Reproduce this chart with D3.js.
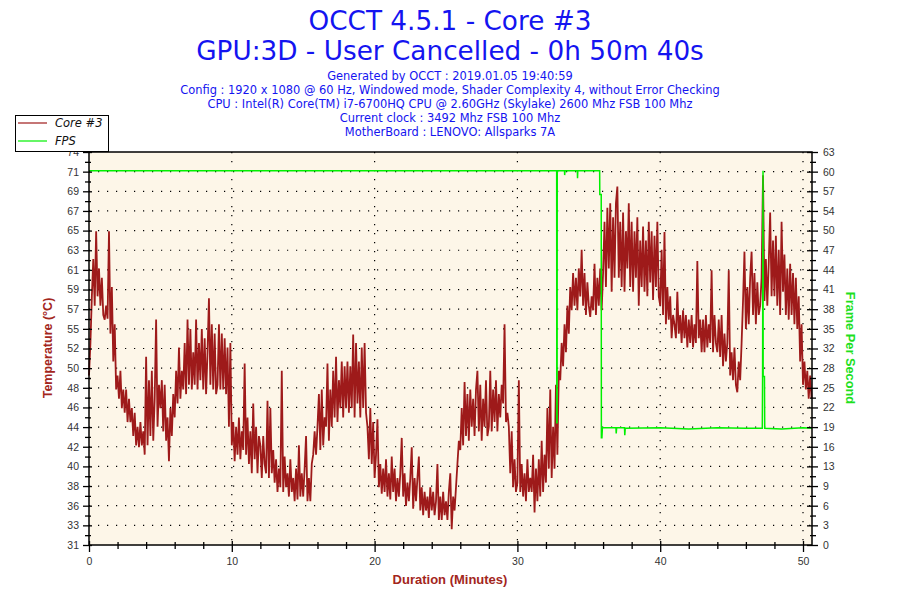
<!DOCTYPE html>
<html>
<head>
<meta charset="utf-8">
<script src="https://cdn.jsdelivr.net/npm/d3@7"></script>
<style>
  body { margin: 0; background: #fff; }
  svg { display: block; }
</style>
</head>
<body>
<svg id="chart" width="900" height="600"></svg>
<script>
// OCCT core temperature log

var titleLines = ['OCCT 4.5.1 - Core #3', 'GPU:3D - User Cancelled - 0h 50m 40s'];
var infoLines = [
    'Generated by OCCT : 2019.01.05 19:40:59',
    'Config : 1920 x 1080 @ 60 Hz, Windowed mode, Shader Complexity 4, without Error Checking',
    'CPU : Intel(R) Core(TM) i7-6700HQ CPU @ 2.60GHz (Skylake) 2600 Mhz FSB 100 Mhz',
    'Current clock : 3492 Mhz FSB 100 Mhz',
    'MotherBoard : LENOVO: Allsparks 7A'
];

var tempTickLabels = [31, 33, 36, 38, 40, 42, 44, 46, 48, 50, 52, 55, 57, 59, 61, 63, 65, 67, 69, 71, 74];
var fpsTickLabels = [0, 3, 6, 9, 13, 16, 19, 22, 25, 28, 32, 35, 38, 41, 44, 47, 50, 54, 57, 60, 63];
var minuteTicks = [0, 10, 20, 30, 40, 50];

var tempMin = 31.3, tempMax = 73.5;
var fpsMax = 63;
var durationMax = 50.63;

// Core #3 temperature, one reading every 0.1 minute (one row per minute)
var tempStep = 0.1;
var coreTemps = [
    49.5, 53, 58, 62, 57, 65, 58, 61, 57, 60,
    56, 55.5, 57, 55.6, 65, 54, 59, 51, 55, 48,
    49.5, 47, 50, 46, 48, 45.5, 48, 44.5, 47, 44.5,
    46, 43, 45.5, 42, 44, 41.8, 44.5, 42, 43.5, 41,
    51.5, 42, 49, 43, 50, 42.5, 47, 55.5, 44, 48.5,
    46, 49, 43.5, 48.5, 42.5, 45, 40.3, 46, 43, 47.5,
    45, 50, 46.5, 52.5, 47, 50, 48, 53, 47.5, 55.5,
    48.5, 54.5, 48, 52, 48.5, 55.5, 48, 53, 49, 54.5,
    48, 53.5, 47.5, 52, 57.8, 48.5, 55, 48, 54, 47.5,
    48.5, 55, 48, 54, 48, 53.5, 47.5, 52.5, 44, 53,
    42, 44.5, 40.3, 44, 41, 45, 40.5, 43.5, 41.5, 50.8,
    41, 45, 40, 43.5, 39, 46.5, 40.5, 44, 39, 43,
    42, 38.5, 43, 40, 39, 46.8, 38.5, 46, 39, 41.5,
    38, 40.5, 37, 39.5, 37.5, 50, 37, 40.8, 37.5, 39,
    36.5, 40.5, 37, 38.5, 36, 39.5, 36.2, 42, 36.5, 39,
    36.5, 39.5, 43, 36, 38.5, 36, 40, 41, 43.5, 41,
    44, 47.5, 41.5, 48, 42, 45, 44, 50.8, 42.5, 48,
    44, 50, 45, 51.5, 44.5, 49, 46, 51, 45, 50.5,
    46, 51, 45.5, 50.5, 46, 53.9, 45, 53, 46.5, 51,
    45, 52.5, 46, 53, 45.5, 44, 40.5, 46, 40, 44.5,
    38.5, 41, 44.8, 37.5, 40, 36.8, 39.5, 37, 40.5, 36.5,
    39, 36.2, 40.8, 37, 39.5, 36, 38.5, 36.5, 39, 42.8,
    36.5, 39, 35.5, 38, 36, 38.5, 41.8, 35.2, 38.5, 36,
    38.5, 40.8, 35, 37.5, 34.5, 37, 35, 36.5, 34.2, 37.5,
    35, 37, 34.5, 36, 40, 34, 36.5, 34, 37, 34.5,
    36, 34, 37, 39, 33, 36.5, 35, 37.5, 40, 42.5,
    41.5, 46, 42, 48.8, 43, 47.5, 42.5, 48, 44, 47,
    43, 48, 50, 43.5, 48.5, 42.5, 47, 44, 49, 43,
    44, 50, 43.5, 48, 44.5, 49, 43.5, 47.5, 45, 48.5,
    46.5, 55, 44.5, 45.5, 44, 39, 43.5, 37.5, 40.5, 37,
    38, 49, 37, 40, 36.5, 39, 36, 40.5, 37, 38.5,
    37, 41, 34.8, 39.5, 36, 40.5, 36.5, 42.5, 37, 41,
    38, 46, 39.5, 48, 38.5, 44, 39.5, 48.5, 41, 50,
    49, 53, 50.5, 55, 52, 57, 54, 59, 56.5, 60.5,
    57, 60, 56.5, 61, 58, 63, 57, 60.5, 56, 59.5,
    57, 55.8, 58, 56.5, 61.5, 56, 60, 57, 61, 56.5,
    60.5, 66, 59, 67.5, 61, 68, 58.5, 66.5, 60, 68,
    69.8, 60, 66, 59, 67, 58.5, 65, 61, 68, 59,
    66, 58.5, 65, 60, 66.5, 57, 64, 59, 65.5, 58.5,
    64, 58, 66, 59.5, 65, 57.6, 64.5, 59, 66, 58,
    57, 63, 56, 64.9, 55, 59, 55.5, 58, 53.5, 56,
    55, 53.5, 58.5, 54, 56, 53, 56.5, 53.5, 56, 52.5,
    55.5, 53, 56, 52.5, 55, 53, 61.8, 53.5, 55.5, 52,
    55.5, 52, 56, 52.5, 55, 53, 60.8, 52, 56, 53,
    52, 55.5, 51.5, 56, 50.5, 54, 51, 53, 60.8, 49.5,
    52, 49, 52.5, 48.5, 47.7, 51, 49, 53, 57.5, 62.8,
    54.5, 59, 55, 60, 62.8, 56, 60.5, 55, 59.5, 56,
    57, 60, 71, 57.5, 62, 57, 61.5, 67, 58, 64,
    58, 64.5, 57, 63, 56, 66, 58.5, 62.5, 56, 61,
    55.5, 61.5, 56, 60.5, 55, 60, 54.5, 58, 51, 55,
    48.5, 51, 48, 50, 47, 49.5, 47
];

// FPS readings (minute, frames per second)
var fpsTimes = [0, 32.75, 32.76, 32.78, 32.79, 33.3, 33.31, 33.33, 34.2, 34.21, 34.23,
    35.76, 35.77, 35.87, 35.88, 35.92, 35.95, 36.9, 36.92, 36.95, 37.5, 37.52, 37.55,
    40, 42, 44, 46, 47.15, 47.17, 47.2, 47.21, 47.23, 47.3, 47.32, 48.5, 50, 50.63];
var fpsValues = [60, 60, 19.6, 19.6, 60, 60, 59.3, 60, 60, 58.8, 60,
    60, 56.2, 56.2, 17.2, 17.2, 18.8, 18.8, 17.9, 18.8, 18.8, 17.6, 18.7,
    18.8, 18.6, 18.8, 18.7, 18.7, 27, 60, 27, 27, 27, 18.7, 18.6, 18.8, 18.7];

var svg = d3.select('#chart');
var plotLeft = 89, plotRight = 812, plotTop = 152, plotBottom = 545;

var x = d3.scaleLinear().domain([0, durationMax]).range([plotLeft, plotRight]);
var yTemp = d3.scaleLinear().domain([tempMin, tempMax]).range([plotBottom, plotTop]);
var yFps = d3.scaleLinear().domain([0, fpsMax]).range([plotBottom, plotTop]);

var tempStepTick = (tempMax - tempMin) / (tempTickLabels.length - 1);
var fpsStepTick = fpsMax / (fpsTickLabels.length - 1);
var tempTickVals = tempTickLabels.map(function(d, i){ return tempMin + i * tempStepTick; });
var tempMinorVals = tempTickVals.slice(1).map(function(d){ return d - tempStepTick / 2; });
var fpsTickVals = fpsTickLabels.map(function(d, i){ return i * fpsStepTick; });
var fpsMinorVals = fpsTickVals.slice(1).map(function(d){ return d - fpsStepTick / 2; });
var minuteMinor = d3.range(0, 51, 2).filter(function(d){ return d % 10 !== 0; });

// titles
svg.selectAll('.title').data(titleLines).enter().append('text')
    .attr('class', 'title')
    .attr('x', 450)
    .attr('y', function(d, i){ return 30 + i * 30; })
    .attr('text-anchor', 'middle')
    .attr('font-family', 'DejaVu Sans, Verdana, sans-serif')
    .attr('font-size', 26.3)
    .attr('fill', '#1414f0')
    .text(function(d){ return d; });

svg.selectAll('.info').data(infoLines).enter().append('text')
    .attr('class', 'info')
    .attr('x', 450)
    .attr('y', function(d, i){ return 80 + i * 14; })
    .attr('text-anchor', 'middle')
    .attr('font-family', 'DejaVu Sans, Verdana, sans-serif')
    .attr('font-size', 11.45)
    .attr('fill', '#1414f0')
    .text(function(d){ return d; });

// plot background
svg.append('rect')
    .attr('x', plotLeft).attr('y', plotTop)
    .attr('width', plotRight - plotLeft).attr('height', plotBottom - plotTop)
    .attr('fill', '#fdf6e8');

// dotted grid
svg.append('g').selectAll('line').data(tempTickVals.slice(1, -1)).enter().append('line')
    .attr('x1', plotLeft).attr('x2', plotRight)
    .attr('y1', function(d){ return yTemp(d); })
    .attr('y2', function(d){ return yTemp(d); })
    .attr('stroke', '#000').attr('stroke-width', 1.2)
    .attr('stroke-dasharray', '1.2,7.8');
svg.append('g').selectAll('line').data(minuteTicks.slice(1)).enter().append('line')
    .attr('x1', function(d){ return x(d); })
    .attr('x2', function(d){ return x(d); })
    .attr('y1', plotTop).attr('y2', plotBottom)
    .attr('stroke', '#000').attr('stroke-width', 1.2)
    .attr('stroke-dasharray', '1.2,7.8');

// series
var tempLine = d3.line()
    .x(function(d, i){ return x(i * tempStep); })
    .y(function(d){ return yTemp(d); });
svg.append('path')
    .datum(coreTemps)
    .attr('d', tempLine)
    .attr('fill', 'none')
    .attr('stroke', '#9e1a1a')
    .attr('stroke-width', 1.8)
    .attr('stroke-linejoin', 'bevel');

var fpsLine = d3.line()
    .x(function(d, i){ return x(fpsTimes[i]); })
    .y(function(d){ return yFps(d); });
svg.append('path')
    .datum(fpsValues)
    .attr('d', fpsLine)
    .attr('fill', 'none')
    .attr('stroke', '#00f000')
    .attr('stroke-width', 1.5);

// frame
svg.append('rect')
    .attr('x', plotLeft).attr('y', plotTop)
    .attr('width', plotRight - plotLeft).attr('height', plotBottom - plotTop)
    .attr('fill', 'none').attr('stroke', '#000').attr('stroke-width', 1.5);

var tickFont = 'Liberation Sans Narrow, Liberation Sans, Arial, sans-serif';

function styleAxis(g){
    g.select('.domain').remove();
    g.selectAll('line').attr('stroke', '#000').attr('stroke-width', 1.3);
    g.selectAll('text').attr('font-family', tickFont).attr('font-size', 10.5).attr('fill', '#333');
}

// left axis
svg.append('g').attr('transform', 'translate(' + plotLeft + ',0)')
    .call(d3.axisLeft(yTemp).tickValues(tempTickVals)
        .tickFormat(function(d, i){ return tempTickLabels[i]; }).tickSize(6).tickPadding(4))
    .call(styleAxis);
svg.append('g').attr('transform', 'translate(' + plotLeft + ',0)')
    .call(d3.axisRight(yTemp).tickValues(tempTickVals).tickFormat('').tickSize(3))
    .call(styleAxis);
svg.append('g').attr('transform', 'translate(' + plotLeft + ',0)')
    .call(d3.axisLeft(yTemp).tickValues(tempMinorVals).tickFormat('').tickSize(4))
    .call(styleAxis);
svg.append('g').attr('transform', 'translate(' + plotLeft + ',0)')
    .call(d3.axisRight(yTemp).tickValues(tempMinorVals).tickFormat('').tickSize(2))
    .call(styleAxis);

// right axis
svg.append('g').attr('transform', 'translate(' + plotRight + ',0)')
    .call(d3.axisRight(yFps).tickValues(fpsTickVals)
        .tickFormat(function(d, i){ return fpsTickLabels[i]; }).tickSize(6).tickPadding(5))
    .call(styleAxis);
svg.append('g').attr('transform', 'translate(' + plotRight + ',0)')
    .call(d3.axisLeft(yFps).tickValues(fpsTickVals).tickFormat('').tickSize(5))
    .call(styleAxis);
svg.append('g').attr('transform', 'translate(' + plotRight + ',0)')
    .call(d3.axisRight(yFps).tickValues(fpsMinorVals).tickFormat('').tickSize(4))
    .call(styleAxis);
svg.append('g').attr('transform', 'translate(' + plotRight + ',0)')
    .call(d3.axisLeft(yFps).tickValues(fpsMinorVals).tickFormat('').tickSize(2))
    .call(styleAxis);

// bottom axis
svg.append('g').attr('transform', 'translate(0,' + plotBottom + ')')
    .call(d3.axisBottom(x).tickValues(minuteTicks).tickFormat(d3.format('d')).tickSize(7).tickPadding(6))
    .call(styleAxis);
svg.append('g').attr('transform', 'translate(0,' + plotBottom + ')')
    .call(d3.axisTop(x).tickValues(minuteTicks).tickFormat('').tickSize(4))
    .call(styleAxis);
svg.append('g').attr('transform', 'translate(0,' + plotBottom + ')')
    .call(d3.axisBottom(x).tickValues(minuteMinor).tickFormat('').tickSize(4))
    .call(styleAxis);
svg.append('g').attr('transform', 'translate(0,' + plotBottom + ')')
    .call(d3.axisTop(x).tickValues(minuteMinor).tickFormat('').tickSize(3))
    .call(styleAxis);

// axis titles
svg.append('text')
    .attr('transform', 'translate(52,348) rotate(-90)')
    .attr('text-anchor', 'middle')
    .attr('font-family', 'Liberation Sans, Arial, sans-serif')
    .attr('font-weight', 'bold').attr('font-size', 12.5)
    .attr('fill', '#a3261c')
    .text('Temperature (°C)');
svg.append('text')
    .attr('transform', 'translate(846,348) rotate(90)')
    .attr('text-anchor', 'middle')
    .attr('font-family', 'Liberation Sans, Arial, sans-serif')
    .attr('font-weight', 'bold').attr('font-size', 12.8)
    .attr('fill', '#1ee01e')
    .text('Frame Per Second');
svg.append('text')
    .attr('x', 450).attr('y', 584)
    .attr('text-anchor', 'middle')
    .attr('font-family', tickFont)
    .attr('font-weight', 'bold').attr('font-size', 13)
    .attr('fill', '#a3261c')
    .text('Duration (Minutes)');

// legend
var legend = svg.append('g');
legend.append('rect')
    .attr('x', 15.5).attr('y', 115.5).attr('width', 93).attr('height', 36)
    .attr('fill', '#fff').attr('stroke', '#000').attr('stroke-width', 1);
var legendItems = [{name: 'Core #3', color: '#9e1a1a'}, {name: 'FPS', color: '#00f000'}];
legend.selectAll('line').data(legendItems).enter().append('line')
    .attr('x1', 18).attr('x2', 47)
    .attr('y1', function(d, i){ return 123 + i * 18; })
    .attr('y2', function(d, i){ return 123 + i * 18; })
    .attr('stroke', function(d){ return d.color; }).attr('stroke-width', 1.2);
legend.selectAll('text').data(legendItems).enter().append('text')
    .attr('x', 55)
    .attr('y', function(d, i){ return 127 + i * 18; })
    .attr('font-family', 'DejaVu Sans, Verdana, sans-serif')
    .attr('font-style', 'italic').attr('font-size', 11.5)
    .attr('fill', '#111')
    .text(function(d){ return d.name; });
</script>
</body>
</html>
